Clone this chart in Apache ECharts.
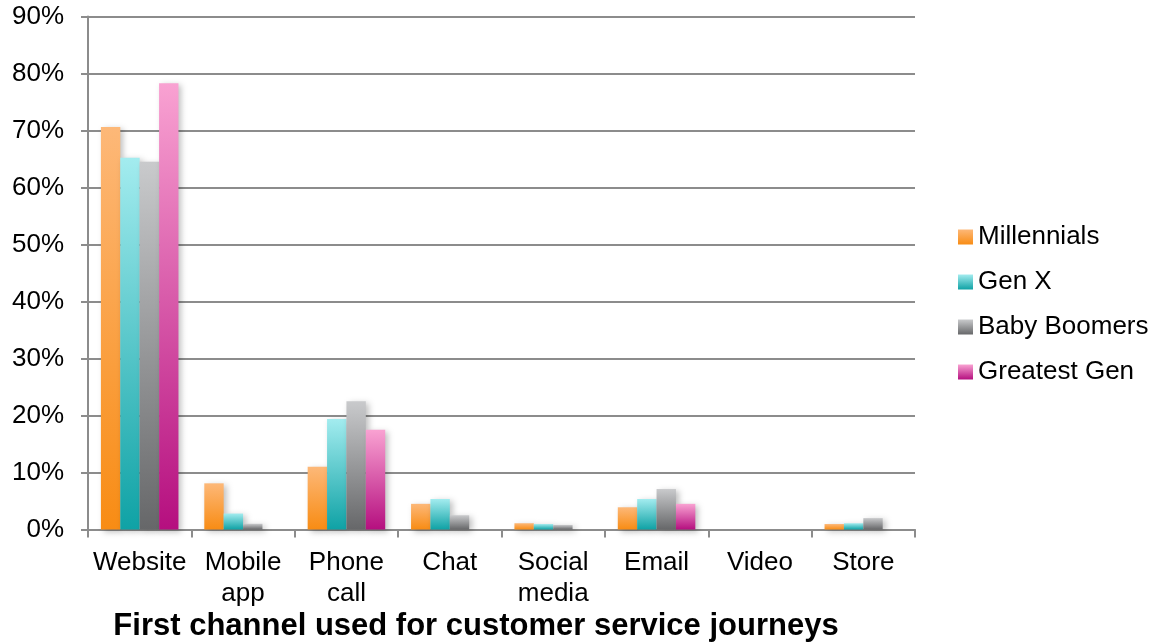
<!DOCTYPE html>
<html>
<head>
<meta charset="utf-8">
<script src="https://cdn.jsdelivr.net/npm/echarts@6/dist/echarts.min.js"></script>
<style>
html,body{margin:0;padding:0;background:#fff;}
#chart{width:1153px;height:642px;}
</style>
</head>
<body>
<div id="chart"></div>
<script>
var categories = ['Website', 'Mobile\napp', 'Phone\ncall', 'Chat', 'Social\nmedia', 'Email', 'Video', 'Store'];
var seriesNames = ['Millennials', 'Gen X', 'Baby Boomers', 'Greatest Gen'];
var millennials = [70.6, 8.1, 11.0, 4.5, 1.1, 3.9, 0, 0.96];
var genX = [65.2, 2.8, 19.4, 5.35, 0.96, 5.35, 0, 1.1];
var babyBoomers = [64.5, 1.0, 22.5, 2.5, 0.8, 7.1, 0, 2.0];
var greatestGen = [78.3, 0, 17.5, 0, 0, 4.5, 0, 0];
var yTicks = [0, 10, 20, 30, 40, 50, 60, 70, 80, 90];
var chartTitle = 'First channel used for customer service journeys';

var gradients = [
  ['#fdb878', '#f88c14'],
  ['#a3ecef', '#0fa2a5'],
  ['#c9cacc', '#666769'],
  ['#f9a2d2', '#b50f7f']
];
var allData = [millennials, genX, babyBoomers, greatestGen];
var FONT = '"Liberation Sans", Arial, sans-serif';

var series = seriesNames.map(function (name, i) {
  return {
    name: name,
    type: 'bar',
    data: allData[i],
    barGap: '0%',
    barCategoryGap: '25%',
    itemStyle: {
      color: new echarts.graphic.LinearGradient(0, 0, 0, 1, [
        {offset: 0, color: gradients[i][0]},
        {offset: 1, color: gradients[i][1]}
      ]),
      shadowColor: 'rgba(0,0,0,0.25)',
      shadowBlur: 6,
      shadowOffsetX: 3,
      shadowOffsetY: 2
    }
  };
});

var chart = echarts.init(document.getElementById('chart'));
chart.setOption({
  animation: false,
  backgroundColor: '#ffffff',
  title: {
    text: chartTitle,
    left: 476,
    textAlign: 'center',
    top: 611,
    padding: 0,
    textStyle: {fontFamily: FONT, fontSize: 31, fontWeight: 'bold', color: '#000'}
  },
  legend: {
    orient: 'vertical',
    left: 958,
    top: 222,
    padding: 0,
    itemWidth: 15,
    itemHeight: 15,
    itemGap: 15,
    icon: 'rect',
    textStyle: {fontFamily: FONT, fontSize: 26, color: '#000', lineHeight: 30},
    data: seriesNames
  },
  grid: {left: 88, right: 238, top: 16.5, bottom: 112.5, containLabel: false},
  xAxis: {
    type: 'category',
    data: categories,
    axisLine: {lineStyle: {color: '#8c8c8c', width: 2}},
    axisTick: {show: true, length: 8, lineStyle: {color: '#8c8c8c', width: 2}},
    axisLabel: {fontFamily: FONT, fontSize: 26, color: '#000', margin: 18, lineHeight: 31, interval: 0}
  },
  yAxis: {
    type: 'value',
    min: yTicks[0],
    max: yTicks[yTicks.length - 1],
    interval: 10,
    axisLine: {show: true, lineStyle: {color: '#8c8c8c', width: 2}},
    axisTick: {show: true, length: 7, lineStyle: {color: '#8c8c8c', width: 2}},
    splitLine: {show: true, lineStyle: {color: '#8c8c8c', width: 2}},
    axisLabel: {fontFamily: FONT, fontSize: 26, color: '#000', margin: 24, formatter: '{value}%'}
  },
  series: series
});
</script>
</body>
</html>
